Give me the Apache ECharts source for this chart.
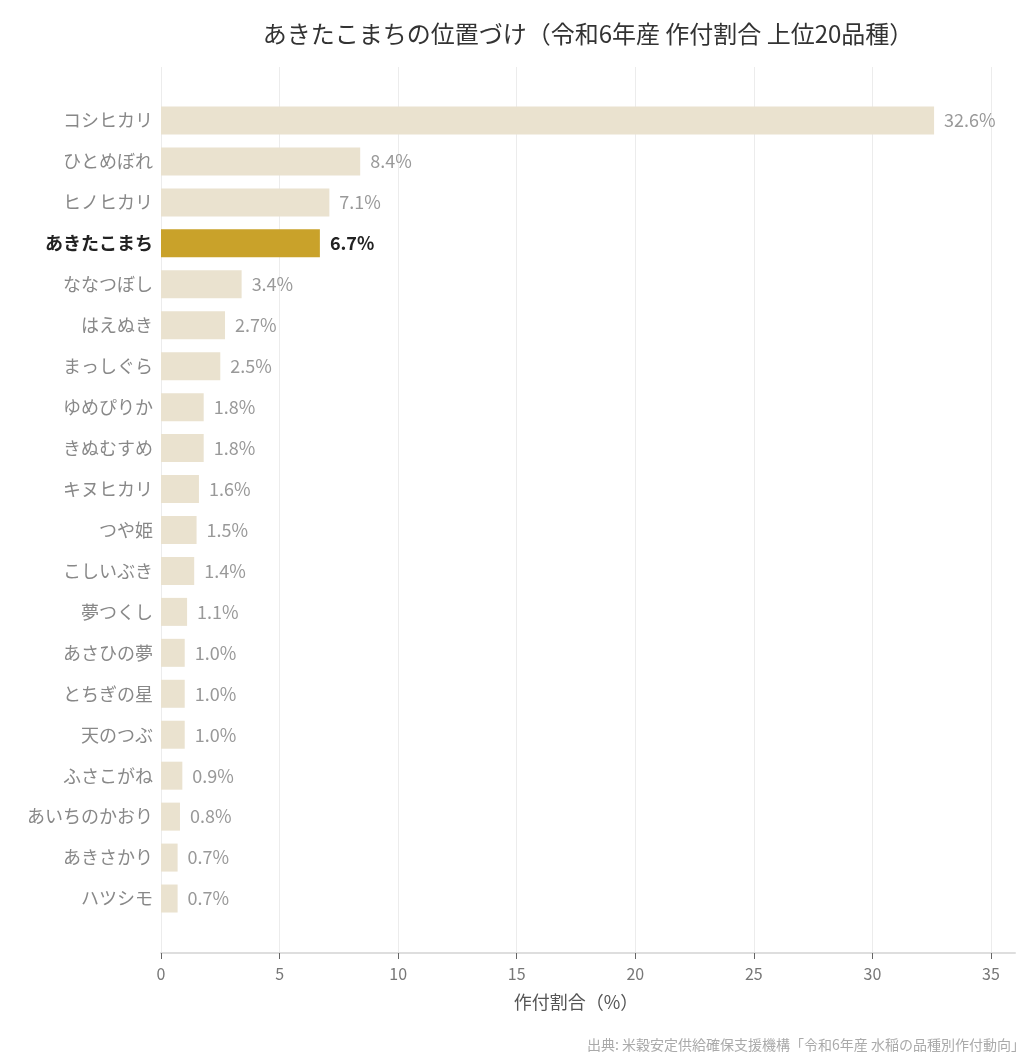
<!DOCTYPE html>
<html>

<head>
  <meta charset="UTF-8">
  <title>あきたこまちの位置づけ</title>
  <script src="https://cdn.jsdelivr.net/npm/echarts@6/dist/echarts.min.js"></script>
  <style>
    body {
      margin: 0;
      padding: 0;
      background: #fff;
    }

    #chart {
      width: 1036px;
      height: 1064px;
    }
  </style>
</head>

<body>
  <div id="chart"></div>

  <script>
    // 品種名と作付割合（%）
    var varieties = ['コシヒカリ', 'ひとめぼれ', 'ヒノヒカリ', 'あきたこまち', 'ななつぼし',
      'はえぬき', 'まっしぐら', 'ゆめぴりか', 'きぬむすめ', 'キヌヒカリ',
      'つや姫', 'こしいぶき', '夢つくし', 'あさひの夢', 'とちぎの星',
      '天のつぶ', 'ふさこがね', 'あいちのかおり', 'あきさかり', 'ハツシモ'];
    var shares = [32.6, 8.4, 7.1, 6.7, 3.4, 2.7, 2.5, 1.8, 1.8, 1.6,
      1.5, 1.4, 1.1, 1.0, 1.0, 1.0, 0.9, 0.8, 0.7, 0.7];
    var xTicks = [0, 5, 10, 15, 20, 25, 30, 35];
    var highlight = 'あきたこまち';

    var FONT = '"Noto Sans CJK JP", "Noto Sans", sans-serif';
    var chart = echarts.init(document.getElementById('chart'), null, { renderer: 'canvas' });

    var barData = varieties.map(function (name, i) {
      var isHi = name === highlight;
      return {
        value: shares[i],
        itemStyle: { color: isHi ? '#C9A22A' : '#EAE2CF' },
        label: isHi ? { color: '#222', fontWeight: 'bold' } : {}
      };
    });

    var option = {
      animation: false,
      textStyle: { fontFamily: FONT },
      title: [{
        text: 'あきたこまちの位置づけ（令和6年産 作付割合 上位20品種）',
        left: 583,
        top: 17,
        textAlign: 'center',
        textStyle: { fontFamily: FONT, fontSize: 24, fontWeight: 'normal', color: '#333' }
      }, {
        text: '出典: 米穀安定供給確保支援機構「令和6年産 水稲の品種別作付動向」',
        right: 6,
        bottom: 7,
        textStyle: { fontFamily: FONT, fontSize: 14, fontWeight: 'normal', color: '#aaa' }
      }],
      grid: [
        // gridlines, ticks and labels
        { left: 161, right: 45, top: 67, bottom: 111 },
        // axis line reaching past the last tick
        { left: 161, right: 21, top: 67, bottom: 111 },
        // bars
        { left: 161, right: 45, top: 100, bottom: 145 }
      ],
      xAxis: [{
        gridIndex: 0,
        type: 'value',
        min: xTicks[0],
        max: xTicks[xTicks.length - 1],
        interval: 5,
        name: '作付割合（%）',
        nameLocation: 'middle',
        nameGap: 40,
        nameTextStyle: { fontFamily: FONT, fontSize: 18, color: '#555' },
        axisLine: { show: false },
        axisTick: { show: true, length: 6, lineStyle: { color: '#666' } },
        axisLabel: { fontFamily: FONT, fontSize: 16, color: '#777', margin: 13 },
        splitLine: { show: true, lineStyle: { color: '#ececec', width: 1 } }
      }, {
        gridIndex: 1,
        type: 'value',
        min: 0,
        max: 36,
        axisLine: { show: true, lineStyle: { color: '#dedede', width: 2 } },
        axisTick: { show: false },
        axisLabel: { show: false },
        splitLine: { show: false }
      }, {
        gridIndex: 2,
        type: 'value',
        min: xTicks[0],
        max: xTicks[xTicks.length - 1],
        show: false
      }],
      yAxis: [{
        gridIndex: 0,
        type: 'category',
        show: false
      }, {
        gridIndex: 1,
        type: 'category',
        show: false
      }, {
        gridIndex: 2,
        type: 'category',
        data: varieties,
        inverse: true,
        axisLine: { show: false },
        axisTick: { show: false },
        axisLabel: {
          fontFamily: FONT,
          fontSize: 18,
          margin: 8,
          color: '#888',
          formatter: function (v) {
            return v === highlight ? '{hi|' + v + '}' : v;
          },
          rich: {
            hi: { fontFamily: FONT, fontSize: 18, fontWeight: 'bold', color: '#222' }
          }
        },
        splitLine: { show: false }
      }],
      series: [{
        type: 'bar',
        xAxisIndex: 2,
        yAxisIndex: 2,
        data: barData,
        barWidth: 28,
        label: {
          show: true,
          position: 'right',
          distance: 10,
          fontFamily: FONT,
          fontSize: 18,
          color: '#999',
          formatter: function (p) { return p.value.toFixed(1) + '%'; }
        }
      }]
    };

    chart.setOption(option);
  </script>
</body>

</html>
